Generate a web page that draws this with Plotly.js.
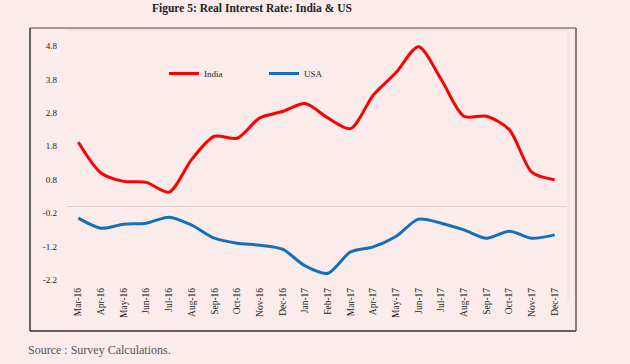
<!DOCTYPE html>
<html>
<head>
<meta charset="utf-8">
<script src="https://cdn.plot.ly/plotly-3.0.1.min.js"></script>
<style>
html,body{margin:0;padding:0;background:#fcebeb;}
#chart{width:630px;height:364px;}
</style>
</head>
<body>
<div id="chart"></div>
<script>
const months = ["Mar-16","Apr-16","May-16","Jun-16","Jul-16","Aug-16","Sep-16","Oct-16","Nov-16","Dec-16","Jan-17","Feb-17","Mar-17","Apr-17","May-17","Jun-17","Jul-17","Aug-17","Sep-17","Oct-17","Nov-17","Dec-17"];
const india = [1.92,1.0,0.75,0.72,0.43,1.41,2.1,2.04,2.65,2.84,3.08,2.65,2.33,3.33,4.0,4.78,3.8,2.7,2.7,2.3,1.02,0.8];
const usa = [-0.35,-0.65,-0.53,-0.5,-0.32,-0.56,-0.95,-1.1,-1.16,-1.28,-1.78,-2.0,-1.36,-1.21,-0.9,-0.38,-0.5,-0.7,-0.95,-0.74,-0.95,-0.85];
const yTicks = [-2.2,-1.2,-0.2,0.8,1.8,2.8,3.8,4.8];

const W = 630, H = 364;
const M = {l:67, r:64, t:30, b:79};
const pw = W - M.l - M.r, ph = H - M.t - M.b;
const px = x => (x - M.l) / pw;
const py = y => (H - M.b - y) / ph;
const font = "'Liberation Serif', 'DejaVu Serif', serif";

function pline(x0,y0,x1,y1,color,width){
  return {type:'line', xref:'paper', yref:'paper', x0:px(x0), y0:py(y0), x1:px(x1), y1:py(y1),
    line:{color:color, width:width}, layer:'below'};
}

const traces = [
  {x: months, y: india, name:'India', type:'scatter', mode:'lines',
   line:{color:'#ff0000', width:3, shape:'spline', smoothing:0.8}},
  {x: months, y: usa, name:'USA', type:'scatter', mode:'lines',
   line:{color:'#1570b8', width:3, shape:'spline', smoothing:0.8}}
];

const layout = {
  width: W, height: H,
  margin: M,
  paper_bgcolor:'#fcebeb', plot_bgcolor:'#fcebeb',
  font:{family:font, color:'#222', size:9},
  showlegend:true,
  legend:{orientation:'h', x:px(164), y:py(59), xanchor:'left', yanchor:'top',
    bgcolor:'rgba(0,0,0,0)', font:{family:font, size:9, color:'#222'},
    entrywidth:55, entrywidthmode:'pixels', tracegroupgap:0, itemwidth:30},
  xaxis:{type:'category', range:[-0.5, months.length-0.5], tickangle:-90, showgrid:false, zeroline:false, showline:false,
    ticks:'', tickfont:{family:font, size:9.5, color:'#222'}, fixedrange:true},
  yaxis:{range:[-2.35,5.28], tickvals:yTicks, ticktext:yTicks.map(v=>v.toFixed(1)),
    showgrid:false, zeroline:true, zerolinecolor:'#ddcfcf', zerolinewidth:1, showline:false,
    ticks:'', ticklabelstandoff:9, tickfont:{family:font, size:9, color:'#222'}, fixedrange:true},
  shapes:[
    pline(67,30,568,30,'#eadada',1),
    pline(568,30,568,300,'#eadada',1),
    pline(30,28,576,28,'#8a7c7d',1.5),
    pline(576,28,576,331,'#8a7c7d',2),
    pline(30,28,30,331,'#333',1.5),
    pline(30,331,576,331,'#333',1.5)
  ],
  annotations:[
    {text:'<b>Figure 5: Real Interest Rate: India &amp; US</b>', xref:'paper', yref:'paper',
     x:px(252), y:py(8), xanchor:'center', yanchor:'middle', showarrow:false,
     font:{family:font, size:11.5, color:'#222'}},
    {text:'Source : Survey Calculations.', xref:'paper', yref:'paper',
     x:px(26), y:py(350), xanchor:'left', yanchor:'middle', showarrow:false,
     font:{family:font, size:12, color:'#555'}}
  ]
};

Plotly.newPlot('chart', traces, layout, {displayModeBar:false, staticPlot:true});
</script>
</body>
</html>
